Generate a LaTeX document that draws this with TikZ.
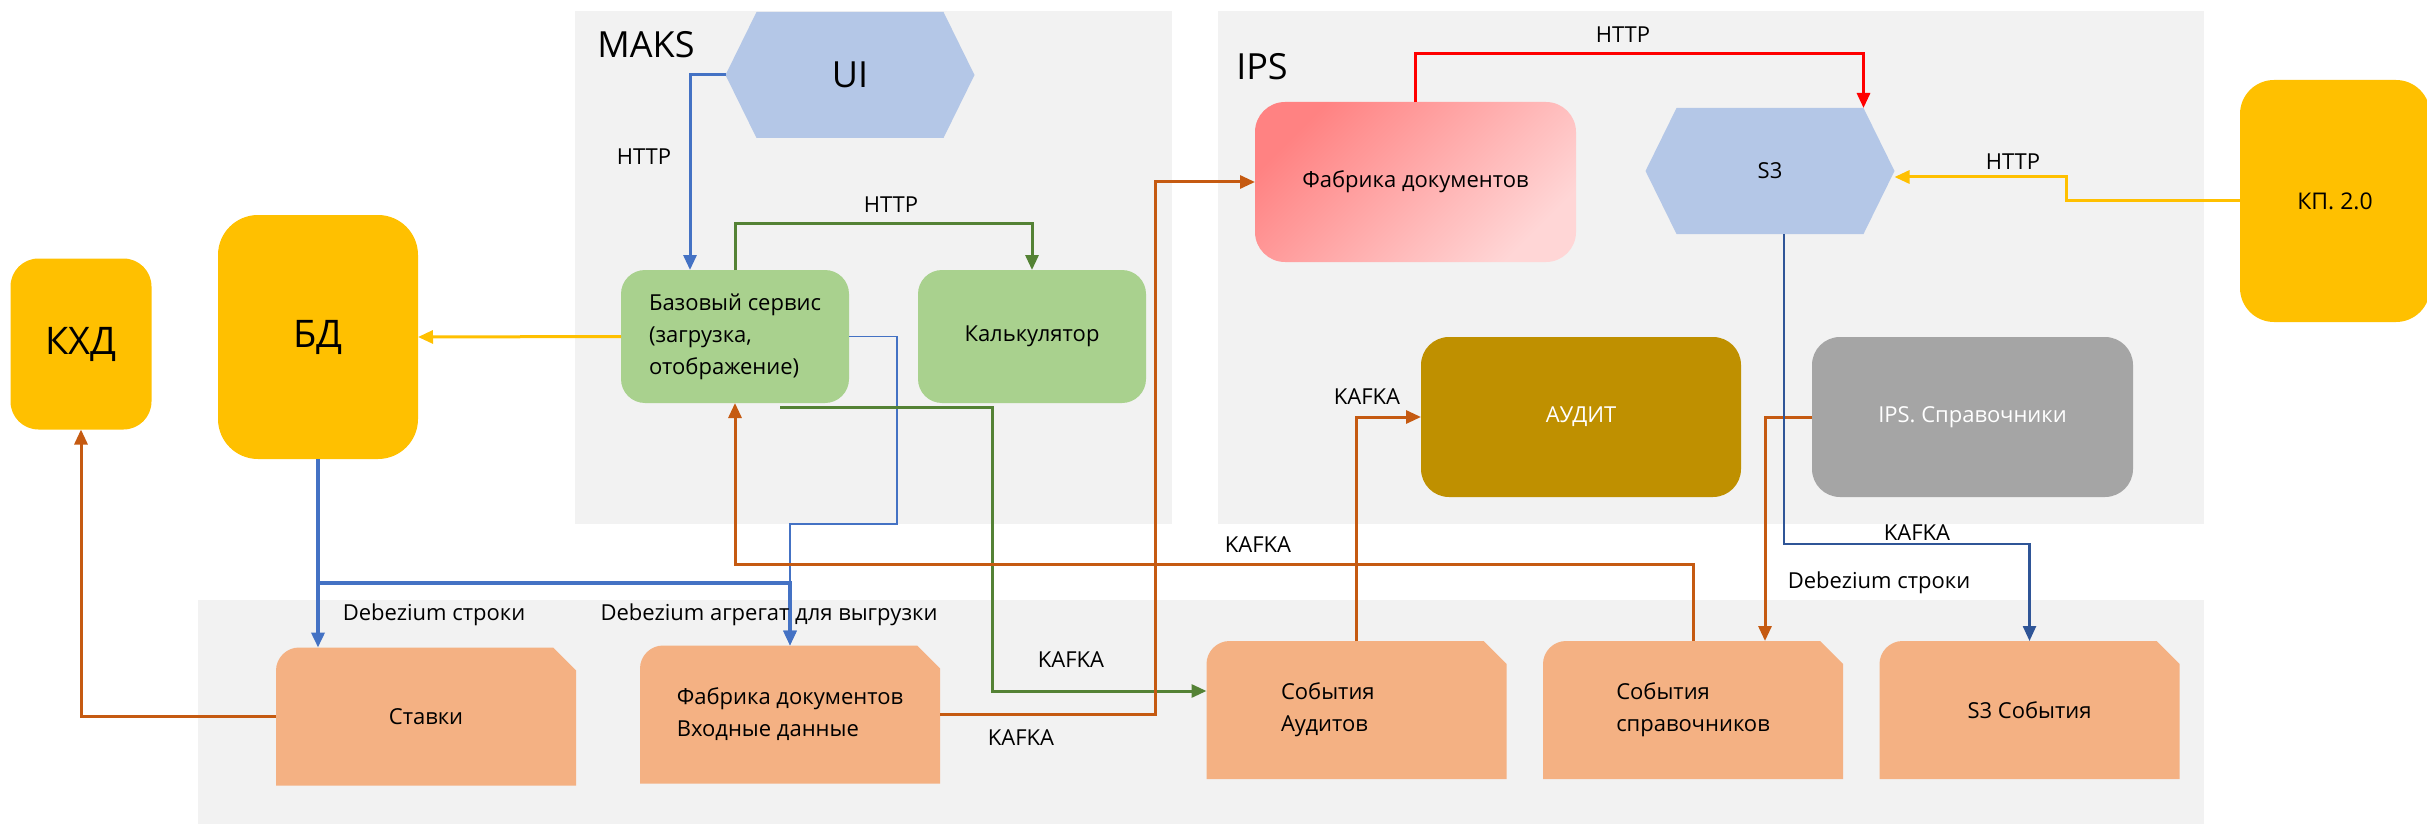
\documentclass[tikz,border=0pt]{standalone}
\usepackage{fontspec}
\setmainfont{Open Sans}
\usetikzlibrary{arrows.meta,positioning,calc,backgrounds}
\definecolor{cgrp}{HTML}{F2F2F2}
\definecolor{chex}{HTML}{B4C7E7}
\definecolor{cgreen}{HTML}{A9D18E}
\definecolor{cyellow}{HTML}{FFC000}
\definecolor{cpeach}{HTML}{F4B183}
\definecolor{corange}{HTML}{C55A11}
\definecolor{cblue}{HTML}{4472C4}
\definecolor{cdblue}{HTML}{2F5597}
\definecolor{cgline}{HTML}{548235}
\definecolor{cred}{HTML}{FF0000}
\definecolor{caudit}{HTML}{BF9000}
\definecolor{cgray}{HTML}{A5A5A5}
\definecolor{cfabA}{HTML}{FF8282}
\definecolor{cfabB}{HTML}{FFD6D6}
\newcommand{\txtf}{\fontsize{11}{16}\selectfont}
\newcommand{\hexfill}[1]{\fill[chex] (#1.north west) -- (#1.north east) -- ([xshift=15.5pt]#1.east) -- (#1.south east) -- (#1.south west) -- ([xshift=-15.5pt]#1.west) -- cycle;}
\newcommand{\snipfill}[1]{\fill[cpeach] (#1.south west) -- ([yshift=-11.5pt]#1.north west) .. controls ([yshift=-5.2pt]#1.north west) and ([xshift=5.2pt]#1.north west) .. ([xshift=11.5pt]#1.north west) -- ([xshift=-11.5pt]#1.north east) -- ([yshift=-11.5pt]#1.north east) -- (#1.south east) -- cycle;}
\tikzset{
  grp/.style={fill=cgrp, inner sep=0pt, outer sep=0pt},
  box/.style={rounded corners=12pt, inner sep=3pt, outer sep=0pt, align=center, font=\txtf},
  greenn/.style={box, fill=cgreen, minimum width=114pt, minimum height=66.5pt},
  yelln/.style={box, fill=cyellow},
  hexn/.style={inner sep=0pt, outer sep=0pt, minimum width=93.5pt, minimum height=63pt, font=\txtf},
  snipn/.style={inner sep=0pt, outer sep=0pt, minimum width=150pt, minimum height=69pt, align=left, font=\txtf},
  pre/.style={-{Triangle[length=7.5pt,width=6.5pt]}, line width=1.5pt},
  lbl/.style={font=\txtf, inner sep=1pt},
  ttl/.style={font=\fontsize{18}{20}\selectfont, inner sep=1pt},
}
\begin{document}
\begin{tikzpicture}[x=0.5pt, y=-0.5pt]
\useasboundingbox (0,0) rectangle (2427,824);
\begin{scope}[on background layer]
\node[grp, minimum width=298.5pt, minimum height=256.5pt] (maks) at (873.5,267.5) {};
\node[grp, minimum width=493pt, minimum height=256.5pt] (ips) at (1711,267.5) {};
\node[grp, minimum width=1003pt, minimum height=112pt] (evt) at (1201,712) {};
\end{scope}
\node[ttl] (maksttl) at (646,45) {MAKS};
\node[ttl] (ipsttl) at (1262,67) {IPS};

\node[yelln, minimum width=70.5pt, minimum height=85.5pt, rounded corners=14pt, font=\fontsize{19}{21}\selectfont] (kxd) at (81,344) {КХД};
\node[yelln, minimum width=100pt, minimum height=122pt, rounded corners=20pt, font=\fontsize{19}{21}\selectfont] (bd) at (318,337) {БД};
\node[greenn, align=left] (base) at (735,336.5) {Базовый сервис\\(загрузка,\\отображение)};
\node[greenn] (calc) at (1032,336.5) {Калькулятор};
\node[hexn, font=\fontsize{18}{20}\selectfont] (ui) at (850,75) {UI};
\node[hexn] (s3) at (1770,171) {S3};
\node[box, minimum width=160.5pt, minimum height=80pt, rounded corners=15pt, top color=cfabA, bottom color=cfabB, shading angle=45] (fab) at (1415.5,182) {Фабрика документов};
\node[yelln, minimum width=95pt, minimum height=121pt, rounded corners=17pt, font=\fontsize{11.5}{14}\selectfont] (kp) at (2335,201) {КП. 2.0};
\node[box, fill=caudit, text=white, minimum width=160pt, minimum height=80pt, rounded corners=14pt] (audit) at (1581,417) {АУДИТ};
\node[box, fill=cgray, text=white, minimum width=160.5pt, minimum height=80pt, rounded corners=14pt] (ipsref) at (1972.5,417) {IPS. Справочники};
\node[snipn] (stavki) at (426,716.5) {Ставки};
\node[snipn] (fabin) at (790,714.5) {Фабрика документов\\Входные данные};
\node[snipn, text width=75.5pt] (evaud) at (1356.5,710) {События\\Аудитов};
\node[snipn] (evref) at (1693,710) {События\\справочников};
\node[snipn] (evs3) at (2029.5,710) {S3 События};
\begin{scope}[on background layer]
\hexfill{ui}
\hexfill{s3}
\snipfill{stavki}
\snipfill{fabin}
\snipfill{evaud}
\snipfill{evref}
\snipfill{evs3}
\end{scope}

\coordinate (tb1) at (897,524);
\coordinate (dbz) at (790,583);
\coordinate (gk) at (992,691);
\coordinate (ok) at (1155,182);
\coordinate (ob) at (735,564);
\coordinate (sk) at (2029.5,544);
\coordinate (yk) at (2066,177);

\draw[pre, cblue] ([xshift=-15.5pt]ui.west) -| ([xshift=-22.5pt]base.north);
\draw[pre, cgline] (base.north) -- ++(0,-47) -| (calc.north);
\draw[pre, cyellow] (base.west) -- (bd.east);
\draw[pre, cblue, line width=0.9pt] (base.east) -| (tb1) -| (fabin.north);
\draw[pre, cblue, line width=1.8pt] (bd.south) -- (bd.south |- stavki.north);
\draw[pre, cblue, line width=1.8pt] (bd.south) |- (dbz) -- (fabin.north);
\draw[pre, cgline] ([xshift=22.5pt,yshift=-2pt]base.south) -| (gk) -- ([yshift=9.5pt]evaud.west);
\draw[pre, corange] (fabin.east) -| (ok) -- (fab.west);
\draw[pre, corange] (evref.north) |- (ob) -- (base.south);
\draw[pre, corange] (evaud.north) |- (audit.west);
\draw[pre, corange] (ipsref.west) -| ([xshift=36pt]evref.north);
\draw[pre, corange] (stavki.west) -| (kxd.south);
\draw[pre, cdblue, line width=1.2pt] ([xshift=7pt]s3.south) |- (sk) -- (evs3.north);
\draw[pre, cred] (fab.north) -- ++(0,-48) -| (s3.north east);
\draw[pre, cyellow] (kp.west) -| (yk) -- ([xshift=15.5pt,yshift=-3pt]s3.east);

\node[lbl] (lh1) at (644,157) {HTTP};
\node[lbl] (lh2) at (891,205) {HTTP};
\node[lbl] (lh3) at (1623,35) {HTTP};
\node[lbl] (lh4) at (2013,162) {HTTP};
\node[lbl] (lk1) at (1071,660) {KAFKA};
\node[lbl] (lk2) at (1021,738) {KAFKA};
\node[lbl] (lk3) at (1258,545) {KAFKA};
\node[lbl] (lk4) at (1367,397) {KAFKA};
\node[lbl] (lk5) at (1917,533) {KAFKA};
\node[lbl] (ld1) at (434,615) {Debezium строки};
\node[lbl] (ld2) at (769,615) {Debezium агрегат для выгрузки};
\node[lbl] (ld3) at (1879,583) {Debezium строки};
\end{tikzpicture}
\end{document}
